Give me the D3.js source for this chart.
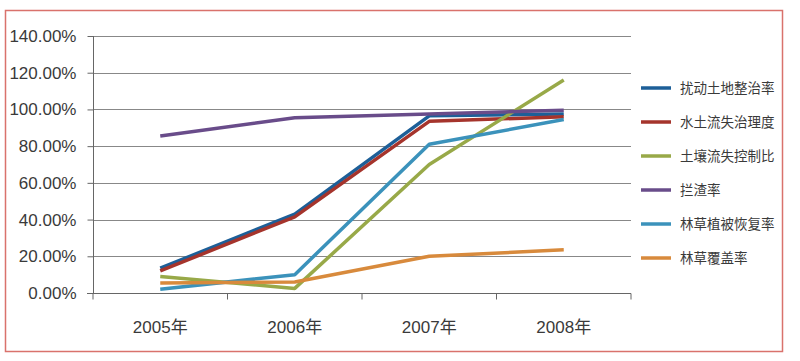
<!DOCTYPE html>
<html>
<head>
<meta charset="utf-8">
<script src="https://cdn.jsdelivr.net/npm/d3@7"></script>
<style>
	body { margin:0; background:#fff; overflow:hidden; }
	svg { display:block; }
	svg text { font-family: "Liberation Sans", "Noto Sans CJK SC", sans-serif; fill:#3a3a3a; }
</style>
</head>
<body>
<svg id="chart"></svg>
<script>
/*************** data *****************/
var years = ["2005年","2006年","2007年","2008年"];
var seriesNames = ["扰动土地整治率","水土流失治理度","土壤流失控制比","拦渣率","林草植被恢复率","林草覆盖率"];
var seriesColors = ["#1d5f98","#a5342c","#98a948","#694c8a","#3b92bb","#d88a3c"];
var disturbedLand = [13.5, 43, 96.5, 97.5];
var erosionControl = [12, 41.5, 93.5, 96];
var soilLossRatio = [9, 2.5, 70, 116];
var slagRate = [85.5, 95.5, 97.5, 99.5];
var vegRestore = [2, 10, 81, 94.5];
var forestCover = [5.5, 6, 20, 23.5];
var yTicks = [0, 20, 40, 60, 80, 100, 120, 140];
/*************** end data *****************/

var seriesValues = [disturbedLand, erosionControl, soilLossRatio, slagRate, vegRestore, forestCover];

var width = 800,
	height = 361,
	margin = {top:36, right:169, bottom:68, left:93};

var svg = d3.select("#chart")
	.attr("width", width)
	.attr("height", height);

// red frame
svg.append("rect")
	.attr("x", 5.5).attr("y", 10.5)
	.attr("width", 777).attr("height", 341)
	.attr("fill", "none")
	.attr("stroke", "#d9726c")
	.attr("stroke-width", 1.5);

var innerWidth = width - margin.left - margin.right;
var innerHeight = height - margin.top - margin.bottom;

/*********** scales ***********/
var xScale = d3.scaleBand()
	.domain(years)
	.range([0, innerWidth]);

var yScale = d3.scaleLinear()
	.domain([0, 140])
	.range([innerHeight, 0]);

var g = svg.append("g")
	.attr("transform", "translate(" + margin.left + "," + margin.top + ")");

// grid lines
g.append("g")
	.selectAll("line")
	.data(yTicks.slice(1))
	.enter()
	.append("line")
		.attr("x1", 0).attr("x2", innerWidth)
		.attr("y1", function(d) { return Math.round(yScale(d)) + 0.5; })
		.attr("y2", function(d) { return Math.round(yScale(d)) + 0.5; })
		.attr("stroke", "#888")
		.attr("stroke-width", 1);

// y axis
var yAxis = g.append("g")
	.attr("transform", "translate(0.5,0)")
	.call(d3.axisLeft(yScale)
		.tickValues(yTicks)
		.tickSize(6)
		.tickPadding(11)
		.tickFormat(function(d) { return d.toFixed(2) + "%"; }));
yAxis.select(".domain").remove();
yAxis.append("line")
	.attr("x1", 0).attr("x2", 0)
	.attr("y1", 0).attr("y2", innerHeight)
	.attr("stroke", "#666");
yAxis.selectAll(".tick line").attr("stroke", "#666");
yAxis.selectAll(".tick text")
	.attr("font-size", 17)
	.style("font-size", "17px");

// x axis
var xAxis = g.append("g")
	.attr("transform", "translate(0," + (Math.round(innerHeight) + 0.5) + ")");
xAxis.append("line")
	.attr("x1", -6).attr("x2", innerWidth)
	.attr("stroke", "#666");
xAxis.selectAll("line.tick")
	.data(d3.range(years.length + 1))
	.enter()
	.append("line")
		.attr("class", "tick")
		.attr("x1", function(i) { return i * xScale.step(); })
		.attr("x2", function(i) { return i * xScale.step(); })
		.attr("y1", 0).attr("y2", 6)
		.attr("stroke", "#666");
xAxis.selectAll("text")
	.data(years)
	.enter()
	.append("text")
		.attr("x", function(d) { return xScale(d) + xScale.bandwidth() / 2; })
		.attr("y", 39)
		.attr("text-anchor", "middle")
		.style("font-size", "17px")
		.text(function(d) { return d; });

/*********** lines ***********/
var line = d3.line()
	.x(function(d, i) { return xScale(years[i]) + xScale.bandwidth() / 2; })
	.y(function(d) { return yScale(d); });

g.append("g")
	.selectAll("path")
	.data(seriesValues)
	.enter()
	.append("path")
		.attr("d", function(d) { return line(d); })
		.attr("fill", "none")
		.attr("stroke", function(d, i) { return seriesColors[i]; })
		.attr("stroke-width", 3.5)
		.attr("stroke-linejoin", "round");

/*********** legend ***********/
var legend = svg.append("g")
	.attr("transform", "translate(641,88)");

var legendItem = legend.selectAll("g")
	.data(seriesNames)
	.enter()
	.append("g")
		.attr("transform", function(d, i) { return "translate(0," + (i * 34) + ")"; });

legendItem.append("line")
	.attr("x1", 0).attr("x2", 30)
	.attr("stroke", function(d, i) { return seriesColors[i]; })
	.attr("stroke-width", 3.5);

legendItem.append("text")
	.attr("x", 39)
	.attr("y", 5)
	.style("font-size", "13.5px")
	.style("font-family", "'Noto Sans CJK SC', sans-serif")
	.text(function(d) { return d; });
</script>
</body>
</html>
